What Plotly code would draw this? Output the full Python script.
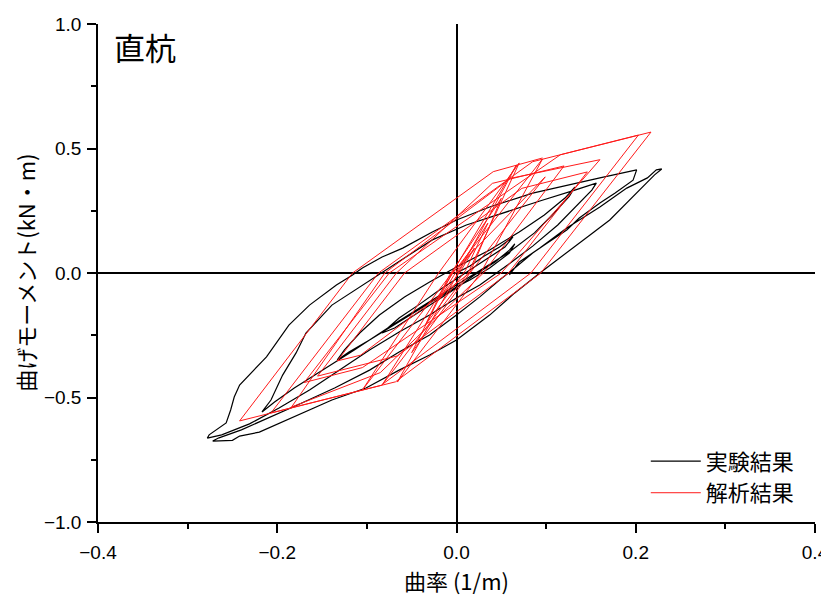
import plotly.graph_objects as go

# ---- 実験結果 (experiment) ----
exp_x = [0, 0.015, 0.031, 0.048, 0.063, 0.054, 0.037, 0.015, 0, -0.019, -0.041, -0.064, -0.083,
         -0.069, -0.047, -0.025, 0, 0.020, 0.043, 0.059, 0.065,
         0.059, 0.037, 0.015, 0, -0.030, -0.064, -0.097, -0.120, -0.133,
         -0.125, -0.108, -0.086, -0.058, -0.030, 0, 0.037, 0.070, 0.098, 0.121, 0.132,
         0.126, 0.109, 0.087, 0.059, 0.031, 0, -0.036, -0.075, -0.114, -0.153, -0.181, -0.203, -0.217,
         -0.207, -0.194, -0.179, -0.168, -0.139, -0.101, -0.064, -0.027, 0.011, 0.048, 0.093, 0.132, 0.156,
         0.151, 0.135, 0.113, 0.085, 0.057, 0.026, 0, -0.030, -0.064, -0.097, -0.131, -0.164, -0.198, -0.231, -0.262, -0.278,
         -0.276, -0.268, -0.257, -0.252, -0.248, -0.242, -0.212, -0.187, -0.164, -0.134, -0.116, -0.105, -0.083, -0.060, -0.027, 0,
         0.037, 0.085, 0.123, 0.160, 0.201,
         0.197, 0.177, 0.160, 0.137, 0.123, 0.098, 0.085, 0.065, 0.048, 0.026, 0, -0.030, -0.064, -0.097, -0.136, -0.175,
         -0.209, -0.240, -0.265, -0.272,
         -0.250, -0.242, -0.220, -0.176, -0.139, -0.101, -0.064, -0.030, 0, 0.037, 0.065, 0.093, 0.123, 0.149, 0.171,
         0.193, 0.210, 0.221, 0.229,
         0.223, 0.213, 0.190, 0.160, 0.123, 0.093, 0.070, 0.059]
exp_y = [0, 0.028, 0.068, 0.104, 0.145, 0.104, 0.064, 0.012, -0.020, -0.068, -0.125, -0.181, -0.241,
         -0.221, -0.169, -0.117, -0.060, -0.008, 0.044, 0.092, 0.117,
         0.080, 0.020, -0.028, -0.056, -0.120, -0.197, -0.269, -0.317, -0.349,
         -0.309, -0.241, -0.169, -0.096, -0.036, 0.024, 0.092, 0.165, 0.233, 0.301, 0.345,
         0.309, 0.241, 0.161, 0.084, 0.020, -0.048, -0.129, -0.217, -0.309, -0.398, -0.462, -0.518, -0.558,
         -0.510, -0.410, -0.321, -0.241, -0.129, -0.040, 0.044, 0.133, 0.193, 0.237, 0.289, 0.333, 0.361,
         0.333, 0.273, 0.193, 0.108, 0.032, -0.048, -0.100, -0.169, -0.237, -0.309, -0.390, -0.470, -0.542, -0.606, -0.650, -0.663,
         -0.650, -0.630, -0.602, -0.550, -0.498, -0.450, -0.337, -0.209, -0.129, -0.048, -0.008, 0.020, 0.064, 0.100, 0.165, 0.213,
         0.265, 0.321, 0.353, 0.382, 0.414,
         0.373, 0.321, 0.281, 0.221, 0.173, 0.112, 0.080, 0.020, -0.028, -0.096, -0.169, -0.249, -0.317, -0.390, -0.462, -0.526,
         -0.582, -0.630, -0.662, -0.675,
         -0.672, -0.655, -0.639, -0.570, -0.510, -0.462, -0.390, -0.329, -0.269, -0.169, -0.080, 0, 0.084, 0.153, 0.213,
         0.293, 0.353, 0.394, 0.418,
         0.414, 0.382, 0.341, 0.265, 0.181, 0.100, 0.044, -0.008]

# ---- 解析結果 (analysis) ----
ana_x = [0, 0.020, 0.005, -0.020, -0.003, 0.035, 0.010, -0.035, -0.008, 0.050, 0.015, -0.050, -0.005,
         0.067, 0.005, -0.066, 0.027, 0.096, -0.004, -0.083, 0.013, 0.070, -0.020, -0.105,
         -0.005, 0.099, 0.015, -0.107, -0.133, -0.058, 0.073, 0.146,
         0.058, -0.066, -0.155, -0.067, 0.040, 0.120,
         0.030, -0.085, -0.184, -0.080, 0.060, 0.160,
         0.050, -0.105, -0.170, -0.075, 0.116, 0.203,
         0.083, -0.084, -0.207, -0.087, 0.085, 0.217,
         0.094, -0.068, -0.242, -0.116, 0.041, 0.096]
ana_y = [0, 0.100, 0.010, -0.110, -0.010, 0.200, 0.010, -0.210, -0.010, 0.300, 0.000, -0.320, 0.000,
         0.434, 0.020, -0.438, 0.000, 0.458, 0.000, -0.450, 0.000, 0.442, 0.000, -0.470,
         0.000, 0.386, 0.000, -0.330, -0.353, 0.000, 0.340, 0.406,
         0.000, -0.333, -0.414, 0.000, 0.360, 0.430,
         0.000, -0.400, -0.538, 0.000, 0.380, 0.455,
         0.000, -0.380, -0.440, 0.000, 0.475, 0.554,
         0.000, -0.451, -0.562, 0.000, 0.447, 0.566,
         0.000, -0.437, -0.594, 0.000, 0.407, 0.462]

x_ticks = [-0.4, -0.2, 0.0, 0.2, 0.4]
y_ticks = [-1.0, -0.5, 0.0, 0.5, 1.0]

FONT = "Liberation Sans, Noto Sans CJK JP"
JP = "Noto Sans CJK JP, Liberation Sans"

fig = go.Figure()
fig.add_trace(go.Scatter(x=exp_x, y=exp_y, mode="lines", name="実験結果",
                         line=dict(color="black", width=1.2)))
fig.add_trace(go.Scatter(x=ana_x, y=ana_y, mode="lines", name="解析結果",
                         line=dict(color="#ff1a1a", width=1.0)))

axis_common = dict(showline=True, linecolor="black", linewidth=1.5, ticks="outside",
                   ticklen=9, tickwidth=1.5, tickcolor="black", showgrid=False,
                   zeroline=True, zerolinecolor="black", zerolinewidth=1.5,
                   automargin=False,
                   tickfont=dict(family=FONT, size=19, color="black"), mirror=False)

fig.update_xaxes(range=[-0.4, 0.4], tickvals=x_ticks, tickformat=".1f", ticklabelstandoff=3,
                 minor=dict(dtick=0.1, ticklen=5, tickwidth=1.5, tickcolor="black", ticks="outside"),
                 **axis_common)
fig.update_yaxes(range=[-1.0, 1.0], tickvals=y_ticks, tickformat=".1f", ticklabelstandoff=2,
                 minor=dict(dtick=0.25, ticklen=5, tickwidth=1.5, tickcolor="black", ticks="outside"),
                 **axis_common)

fig.add_annotation(text="直杭", xref="paper", yref="paper", x=0.02, y=1.005,
                   xanchor="left", yanchor="top", showarrow=False,
                   font=dict(family=JP, size=31, color="black"))
fig.add_annotation(text="曲げモーメント(kN・m)", xref="paper", yref="paper", x=-0.102, y=0.5,
                   xanchor="center", yanchor="middle", textangle=-90, showarrow=False,
                   font=dict(family=JP, size=22, color="black"))
fig.add_annotation(text="曲率 (1/m)", xref="paper", yref="paper", x=0.5, y=-0.1165,
                   xanchor="center", yanchor="middle", showarrow=False,
                   font=dict(family=JP, size=22, color="black"))

fig.update_layout(width=821, height=593, margin=dict(l=90, r=14, t=16, b=79),
                  plot_bgcolor="white", paper_bgcolor="white",
                  legend=dict(x=0.764, y=0.164, xanchor="left", yanchor="top",
                              bgcolor="rgba(0,0,0,0)", itemwidth=50, tracegroupgap=0,
                              font=dict(family=JP, size=22, color="black")),
                  showlegend=True)

fig.write_html("out.html")
